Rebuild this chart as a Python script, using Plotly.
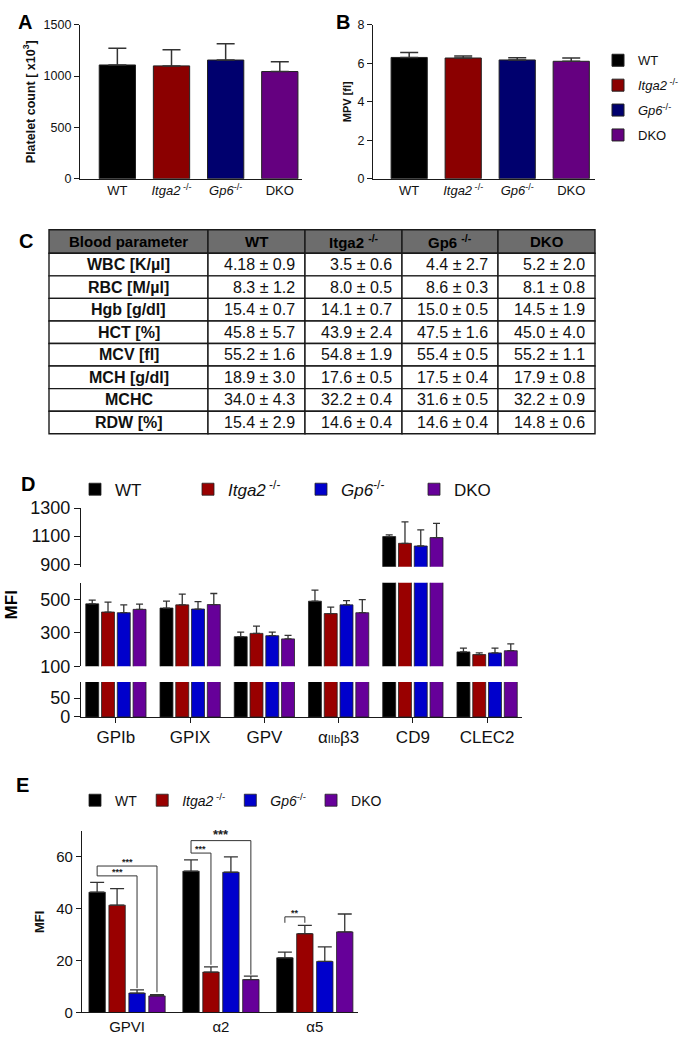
import plotly.graph_objects as go

FONT = "Liberation Sans, Arial, sans-serif"
W, H = 688, 1048

# ---------------- data ----------------
genotypes = ["WT", "Itga2", "Gp6", "DKO"]
geno_labels = ["WT", "<i>Itga2</i><sup> -/-</sup>", "<i>Gp6</i><sup>-/-</sup>", "DKO"]
colors_ab = ["#000000", "#8b0000", "#00006e", "#650080"]
colors_de = ["#000000", "#990000", "#0000cc", "#660099"]

# Panel A: platelet count (x10^3)
platelet_mean = [1108, 1099, 1156, 1044]
platelet_upper = [1271, 1255, 1315, 1140]

# Panel B: MPV (fl)
mpv_mean = [6.30, 6.27, 6.17, 6.10]
mpv_upper = [6.56, 6.38, 6.28, 6.27]

# Panel C: blood parameters table
table_header = ["Blood parameter", "WT", "Itga2 <sup>-/-</sup>", "Gp6 <sup>-/-</sup>", "DKO"]
params = ["WBC [K/µl]", "RBC [M/µl]", "Hgb [g/dl]", "HCT [%]",
          "MCV [fl]", "MCH [g/dl]", "MCHC", "RDW [%]"]
wt_vals = ["4.18 ± 0.9", "8.3 ± 1.2", "15.4 ± 0.7", "45.8 ± 5.7",
           "55.2 ± 1.6", "18.9 ± 3.0", "34.0 ± 4.3", "15.4 ± 2.9"]
itga2_vals = ["3.5 ± 0.6", "8.0 ± 0.5", "14.1 ± 0.7", "43.9 ± 2.4",
              "54.8 ± 1.9", "17.6 ± 0.5", "32.2 ± 0.4", "14.6 ± 0.4"]
gp6_vals = ["4.4 ± 2.7", "8.6 ± 0.3", "15.0 ± 0.5", "47.5 ± 1.6",
            "55.4 ± 0.5", "17.5 ± 0.4", "31.6 ± 0.5", "14.6 ± 0.4"]
dko_vals = ["5.2 ± 2.0", "8.1 ± 0.8", "14.5 ± 1.9", "45.0 ± 4.0",
            "55.2 ± 1.1", "17.9 ± 0.8", "32.2 ± 0.9", "14.8 ± 0.6"]

# Panel D: surface glycoproteins (MFI)
d_markers = ["GPIb", "GPIX", "GPV", "aIIbb3", "CD9", "CLEC2"]
d_ticktext = ["GPIb", "GPIX", "GPV",
              "α<span style='font-size:11px'>IIb</span>β3", "CD9", "CLEC2"]
d_wt = [474, 449, 277, 490, 1097, 186]
d_wt_up = [497, 490, 305, 556, 1109, 209]
d_itga2 = [425, 468, 297, 416, 1049, 170]
d_itga2_up = [484, 532, 340, 455, 1202, 180]
d_gp6 = [421, 443, 283, 468, 1030, 180]
d_gp6_up = [468, 488, 305, 494, 1144, 209]
d_dko = [441, 470, 264, 421, 1090, 193]
d_dko_up = [472, 536, 285, 499, 1191, 234]

# Panel E: collagen receptors / integrins (MFI)
e_markers = ["GPVI", "α2", "α5"]
e_wt = [46.4, 54.5, 21.1]
e_wt_up = [50.2, 58.9, 23.3]
e_itga2 = [41.4, 15.6, 30.4]
e_itga2_up = [47.8, 17.6, 33.6]
e_gp6 = [7.5, 54.1, 19.7]
e_gp6_up = [8.7, 60.0, 25.3]
e_dko = [6.4, 12.7, 31.1]
e_dko_up = [6.9, 14.0, 38.0]

# significance brackets (panel E)
sig_group = [0, 0, 1, 1, 2]
sig_bar_a = [0, 0, 0, 0, 0]
sig_bar_b = [3, 2, 3, 1, 1]
sig_level = [56.5, 52.7, 66.3, 61.5, 36.9]
sig_left_end = [52.7, 52.7, 61.5, 61.5, 34.6]
sig_right_end = [7.8, 9.4, 14.6, 18.4, 34.6]
sig_text = ["***", "***", "***", "***", "**"]
sig_size = [9, 9, 13, 9, 9]

# ---------------- helpers ----------------
BARGAP = 0.15
BARGROUPGAP = 0.18


def px_x(p):
    return p / W


def px_y(p):
    return 1 - p / H


def errs(mean, upper):
    return [u - m for m, u in zip(mean, upper)]


AXLINE = dict(showline=True, linecolor="#1a1a1a", linewidth=1.3, showgrid=False,
              zeroline=False, tickcolor="#1a1a1a", tickwidth=1.3)

fig = go.Figure()
shapes = []
annos = []

# ---------------- Panel A & B ----------------
for k, g in enumerate(genotypes):
    fig.add_trace(go.Bar(
        x=[g], y=[platelet_mean[k]], width=0.67, offset=-0.335,
        marker=dict(color=colors_ab[k], line=dict(color="#222", width=1)),
        error_y=dict(type="data", symmetric=False,
                     array=[platelet_upper[k] - platelet_mean[k]], arrayminus=[0],
                     color="#333", thickness=1.5, width=9),
        xaxis="x", yaxis="y", showlegend=False, name=geno_labels[k]))
for k, g in enumerate(genotypes):
    fig.add_trace(go.Bar(
        x=[g], y=[mpv_mean[k]], width=0.67, offset=-0.335,
        marker=dict(color=colors_ab[k], line=dict(color="#222", width=1)),
        error_y=dict(type="data", symmetric=False,
                     array=[mpv_upper[k] - mpv_mean[k]], arrayminus=[0],
                     color="#333", thickness=1.5, width=9),
        xaxis="x2", yaxis="y2", showlegend=True, legend="legend",
        legendgroup=f"b{k}", name=geno_labels[k]))

# ---------------- Panel C (table drawn with shapes + text) ----------------
col_w = [159, 97, 97, 96, 97]
TX0, TY0, HDR_H, ROW_H, PAD = 49, 224, 24, 23, 8
columns = [params, wt_vals, itga2_vals, gp6_vals, dko_vals]
x_edges = [TX0]
for w_ in col_w:
    x_edges.append(x_edges[-1] + w_)
cell_line = dict(color="#1a1a1a", width=1.4)
for c, col in enumerate(columns):
    xl, xr = x_edges[c], x_edges[c + 1]
    shapes.append(dict(type="rect", xref="paper", yref="paper",
                       x0=px_x(xl), x1=px_x(xr), y0=px_y(TY0 + HDR_H), y1=px_y(TY0),
                       fillcolor="#6d6d6d", line=cell_line))
    annos.append(dict(text=f"<b>{table_header[c]}</b>", xref="paper", yref="paper",
                      x=px_x((xl + xr) / 2), y=px_y(TY0 + HDR_H / 2), showarrow=False,
                      xanchor="center", yanchor="middle",
                      font=dict(size=15, color="#000")))
    for r, val in enumerate(col):
        yt = TY0 + HDR_H + r * ROW_H
        shapes.append(dict(type="rect", xref="paper", yref="paper",
                           x0=px_x(xl), x1=px_x(xr), y0=px_y(yt + ROW_H), y1=px_y(yt),
                           fillcolor="white", line=cell_line))
        if c == 0:
            annos.append(dict(text=f"<b>{val}</b>", xref="paper", yref="paper",
                              x=px_x((xl + xr) / 2), y=px_y(yt + ROW_H / 2),
                              showarrow=False, xanchor="center", yanchor="middle",
                              font=dict(size=16, color="#111")))
        else:
            annos.append(dict(text=val, xref="paper", yref="paper",
                              x=px_x(xr - PAD), y=px_y(yt + ROW_H / 2),
                              showarrow=False, xanchor="right", yanchor="middle",
                              font=dict(size=16, color="#111")))

# ---------------- Panel D (broken axis) ----------------
d_series = [(d_wt, d_wt_up), (d_itga2, d_itga2_up), (d_gp6, d_gp6_up), (d_dko, d_dko_up)]
for seg in ["y3", "y4", "y5"]:
    for k, (m, u) in enumerate(d_series):
        fig.add_trace(go.Bar(
            x=d_markers, y=m,
            marker=dict(color=colors_de[k], line=dict(color="#222", width=0.8)),
            error_y=dict(type="data", symmetric=False, array=errs(m, u),
                         arrayminus=[0] * len(m), color="#333", thickness=1.3, width=3.5),
            xaxis="x3", yaxis=seg, showlegend=(seg == "y3"), legend="legend2",
            name=geno_labels[k]))

# ---------------- Panel E ----------------
e_series = [(e_wt, e_wt_up), (e_itga2, e_itga2_up), (e_gp6, e_gp6_up), (e_dko, e_dko_up)]
for k, (m, u) in enumerate(e_series):
    fig.add_trace(go.Bar(
        x=e_markers, y=m,
        marker=dict(color=colors_de[k], line=dict(color="#222", width=0.8)),
        error_y=dict(type="data", symmetric=False, array=errs(m, u),
                     arrayminus=[0] * len(m), color="#333", thickness=1.3, width=7),
        xaxis="x4", yaxis="y6", showlegend=True, legend="legend3",
        name=geno_labels[k]))

slot = (1 - BARGAP) / 4
for i in range(len(sig_group)):
    xa = sig_group[i] + (sig_bar_a[i] - 1.5) * slot
    xb = sig_group[i] + (sig_bar_b[i] - 1.5) * slot
    ln = dict(color="#333", width=1)
    shapes.append(dict(type="line", xref="x4", yref="y6", x0=xa, x1=xa,
                       y0=sig_left_end[i], y1=sig_level[i], line=ln))
    shapes.append(dict(type="line", xref="x4", yref="y6", x0=xa, x1=xb,
                       y0=sig_level[i], y1=sig_level[i], line=ln))
    shapes.append(dict(type="line", xref="x4", yref="y6", x0=xb, x1=xb,
                       y0=sig_level[i], y1=sig_right_end[i], line=ln))
    annos.append(dict(x=(xa + xb) / 2, y=sig_level[i], xref="x4", yref="y6",
                      text=f"<b>{sig_text[i]}</b>", showarrow=False, yanchor="bottom",
                      yshift=-3, font=dict(size=sig_size[i], color="#222")))

# panel letters and free titles
for letter, cx, cy in [("A", 25, 12), ("B", 343, 12), ("C", 26, 236), ("D", 28, 483), ("E", 23, 790)]:
    annos.append(dict(text=f"<b>{letter}</b>", x=px_x(cx), y=px_y(cy), xref="paper",
                      yref="paper", showarrow=False, xanchor="center", yanchor="middle",
                      font=dict(size=20, color="#000")))
annos.append(dict(text="<b>MFI</b>", x=px_x(11), y=px_y(607), xref="paper", yref="paper",
                  showarrow=False, textangle=-90, xanchor="center", yanchor="middle",
                  font=dict(size=17, color="#000")))

fig.update_layout(
    width=W, height=H, margin=dict(l=0, r=0, t=0, b=0),
    paper_bgcolor="white", plot_bgcolor="white",
    font=dict(family=FONT, color="#111"),
    barmode="group", bargap=BARGAP, bargroupgap=BARGROUPGAP,
    shapes=shapes, annotations=annos,
    # A
    xaxis=dict(domain=[px_x(80), px_x(302)], anchor="y", range=[-0.69, 3.41],
               categoryorder="array", categoryarray=genotypes,
               tickvals=genotypes, ticktext=geno_labels, ticks="",
               tickfont=dict(size=13), **AXLINE),
    yaxis=dict(domain=[px_y(172), px_y(15)], anchor="x", range=[0, 1500],
               tickvals=[0, 500, 1000, 1500], ticks="outside", ticklen=5,
               tickfont=dict(size=12.5),
               title=dict(text="<b>Platelet count [ x10<sup>3</sup>]</b>",
                          font=dict(size=12.5), standoff=5), **AXLINE),
    # B
    xaxis2=dict(domain=[px_x(373), px_x(595)], anchor="y2", range=[-0.67, 3.44],
                categoryorder="array", categoryarray=genotypes,
                tickvals=genotypes, ticktext=geno_labels, ticks="",
                tickfont=dict(size=13), **AXLINE),
    yaxis2=dict(domain=[px_y(172), px_y(15)], anchor="x2", range=[0, 8],
                tickvals=[0, 2, 4, 6, 8], ticks="outside", ticklen=5,
                tickfont=dict(size=12.5),
                title=dict(text="<b>MPV [fl]</b>", font=dict(size=11), standoff=3),
                **AXLINE),
    # D
    xaxis3=dict(domain=[px_x(81), px_x(522)], anchor="y5", range=[-0.47, 5.47],
                categoryorder="array", categoryarray=d_markers,
                tickvals=d_markers, ticktext=d_ticktext, ticks="outside", ticklen=5,
                tickfont=dict(size=17), **AXLINE),
    yaxis3=dict(domain=[px_y(567.5), px_y(507.7)], anchor="x3", range=[883, 1300],
                tickvals=[900, 1100, 1300], ticks="outside", ticklen=6,
                tickfont=dict(size=18), **AXLINE),
    yaxis4=dict(domain=[px_y(669), px_y(584)], anchor="x3", range=[100, 600],
                tickvals=[100, 300, 500], ticks="outside", ticklen=6,
                tickfont=dict(size=18), **AXLINE),
    yaxis5=dict(domain=[px_y(720.7), px_y(685)], anchor="x3", range=[0, 93],
                tickvals=[0, 50], ticks="outside", ticklen=6,
                tickfont=dict(size=18), **AXLINE),
    # E
    xaxis4=dict(domain=[px_x(82), px_x(358)], anchor="y6", range=[-0.48, 2.46],
                categoryorder="array", categoryarray=e_markers, ticks="",
                tickfont=dict(size=15), **AXLINE),
    yaxis6=dict(domain=[px_y(1022), px_y(837)], anchor="x4", range=[0, 70],
                tickvals=[0, 20, 40, 60], ticks="outside", ticklen=5,
                tickfont=dict(size=15),
                title=dict(text="<b>MFI</b>", font=dict(size=13), standoff=8), **AXLINE),
    legend=dict(x=px_x(598), y=px_y(36), xanchor="left", yanchor="top",
                orientation="v", font=dict(size=13), bgcolor="rgba(0,0,0,0)",
                tracegroupgap=5),
    legend2=dict(x=px_x(75), y=px_y(489), xanchor="left", yanchor="middle",
                 orientation="h", font=dict(size=17), bgcolor="rgba(0,0,0,0)",
                 entrywidth=68, entrywidthmode="pixels"),
    legend3=dict(x=px_x(75), y=px_y(806), xanchor="left", yanchor="middle",
                 orientation="h", font=dict(size=14), bgcolor="rgba(0,0,0,0)"),
)

fig.write_html("out.html", config={"displayModeBar": False},
               post_script="document.body.style.margin='0';document.body.style.padding='0';")
